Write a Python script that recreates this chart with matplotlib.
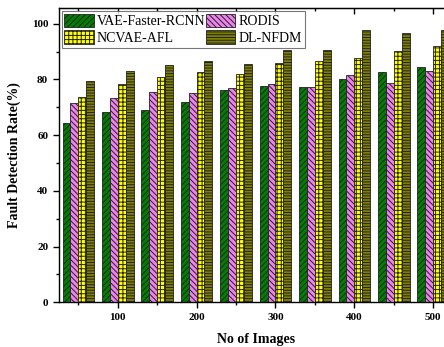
import numpy as np
import matplotlib
matplotlib.use("Agg")
from matplotlib import pyplot as plt
from matplotlib.ticker import MultipleLocator

plt.rcParams['font.family'] = ['Liberation Serif', 'DejaVu Serif']
plt.rcParams['hatch.linewidth'] = 0.7

images = [50, 100, 150, 200, 250, 300, 350, 400, 450, 500]
vae_faster_rcnn = [64.5, 68.4, 69.1, 71.9, 76.3, 77.5, 77.3, 80.2, 82.7, 84.4]
rodis = [71.4, 73.3, 75.6, 75.1, 76.8, 78.2, 77.3, 81.4, 78.7, 83.0]
ncvae_afl = [73.5, 78.2, 80.8, 82.6, 81.9, 86.0, 86.5, 87.5, 90.3, 91.8]
dl_nfdm = [79.4, 83.1, 85.3, 86.7, 85.5, 90.4, 90.7, 97.6, 96.5, 97.6]

series = [
    ("VAE-Faster-RCNN", vae_faster_rcnn, "#008000", "//////"),
    ("RODIS", rodis, "#ee82ee", "\\\\\\\\\\\\"),
    ("NCVAE-AFL", ncvae_afl, "#ffff00", "++++"),
    ("DL-NFDM", dl_nfdm, "#808000", "------"),
]

fig = plt.figure(figsize=(4.44, 3.47), dpi=100)
ax = fig.add_axes([0.132, 0.129, 0.888, 0.847])

x = np.array(images, dtype=float)
w = 10
bars = []
for i, (name, vals, col, hatch) in enumerate(series):
    b = ax.bar(x + (i - 1.5) * w, vals, width=w, color=col, edgecolor="#222222",
               linewidth=0.6, hatch=hatch, label=name)
    bars.append(b)

ax.set_xlim(25, 525)
ax.set_ylim(0, 105.5)
ax.xaxis.set_major_locator(MultipleLocator(100))
ax.xaxis.set_minor_locator(MultipleLocator(50))
ax.yaxis.set_major_locator(MultipleLocator(20))
ax.yaxis.set_minor_locator(MultipleLocator(10))
ax.tick_params(which="both", direction="out", width=1)
ax.tick_params(which="major", length=4, labelsize=8)
ax.tick_params(which="minor", length=2.5)

# inward ticks along the top edge
sec = ax.secondary_xaxis("top")
sec.xaxis.set_major_locator(MultipleLocator(100))
sec.xaxis.set_minor_locator(MultipleLocator(50))
sec.tick_params(which="both", direction="in", width=1, labeltop=False)
sec.tick_params(which="major", length=4)
sec.tick_params(which="minor", length=2.5)

for lab in ax.get_xticklabels() + ax.get_yticklabels():
    lab.set_fontweight("bold")
for s in ax.spines.values():
    s.set_linewidth(1)

ax.set_xlabel("No of Images", fontsize=10, fontweight="bold", labelpad=8)
ax.set_ylabel("Fault Detection Rate(%)", fontsize=10, fontweight="bold", labelpad=8)

order = [0, 2, 1, 3]
leg = ax.legend([bars[k] for k in order], [series[k][0] for k in order],
                ncol=2, loc="upper left", bbox_to_anchor=(0.004, 0.995),
                fontsize=10, handlelength=2.1, handleheight=1.1,
                handletextpad=0.25, columnspacing=0.05, labelspacing=0.15,
                borderpad=0.2, borderaxespad=0.1, fancybox=False,
                edgecolor="#555555")
leg.get_frame().set_linewidth(0.8)

fig.savefig("out.png", dpi=100)
